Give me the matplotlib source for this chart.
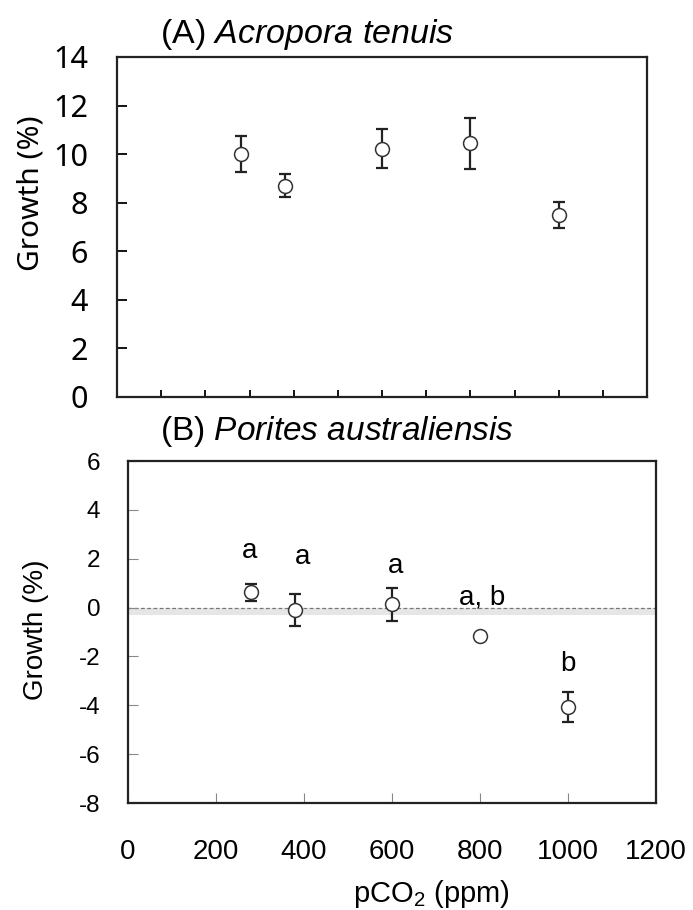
import numpy as np
import matplotlib
matplotlib.use("Agg")
from matplotlib import pyplot as plt

# pCO2 levels (ppm)
pco2 = [280, 380, 600, 800, 1000]

# (A) Acropora tenuis
growth_a = [10.0, 8.7, 10.23, 10.45, 7.48]
err_a = [0.74, 0.48, 0.82, 1.05, 0.53]

# (B) Porites australiensis
growth_b = [0.62, -0.09, 0.14, -1.15, -4.07]
err_b = [0.35, 0.66, 0.67, 0.0, 0.63]

# significance letters for panel B
letters = ["a", "a", "a", "a, b", "b"]
letter_x = [276, 396, 609, 804, 1000]
letter_y = [2.32, 2.05, 1.71, 0.42, -2.31]

plt.rcParams['mathtext.fontset'] = 'custom'
plt.rcParams['mathtext.rm'] = 'Liberation Sans'
plt.rcParams['mathtext.it'] = 'Liberation Sans:italic'
plt.rcParams['font.family'] = ['Liberation Sans', 'DejaVu Sans']
plt.rcParams['axes.unicode_minus'] = False

W, H = 693, 910
fig = plt.figure(figsize=(W / 100, H / 100), dpi=100)

def box(l, t, r, b):
    return [l / W, 1 - b / H, (r - l) / W, (b - t) / H]

# ---- panel A ----
axa = fig.add_axes(box(117, 57, 647, 397))
axa.errorbar(pco2, growth_a, yerr=err_a, fmt='none', ecolor='#222222',
             elinewidth=1.6, capsize=4.5, capthick=1.6, zorder=2)
axa.plot(pco2, growth_a, 'o', ms=10, mfc='white', mec='#333333', mew=1.1, zorder=3)
axa.set_xlim(0, 1200)
axa.set_ylim(0, 14)
axa.set_xticks(np.arange(0, 1201, 100))
axa.set_yticks(np.arange(0, 15, 2))
axa.tick_params(axis='x', direction='in', length=5, width=1.3, labelbottom=False)
axa.tick_params(axis='y', direction='in', length=7, width=1.3, pad=21, labelsize=22)
for lab in axa.get_yticklabels():
    lab.set_fontfamily('Noto Sans')
for s in axa.spines.values():
    s.set_linewidth(1.6)
    s.set_color('#222222')
fig.text(31 / W, 1 - 193 / H, 'Growth (%)', rotation=90, ha='center', va='center',
         fontsize=21.5, family='Noto Sans')
fig.text(160 / W, 1 - 43 / H, r'(A) $\it{Acropora\ tenuis}$', fontsize=24.5,
         ha='left', va='baseline')

# ---- panel B ----
axb = fig.add_axes(box(128, 461, 656, 803))
axb.axhspan(-0.3, 0, color='#e6e6e6', lw=0, zorder=0)
axb.axhline(0, color='#777777', ls='--', lw=0.9, dashes=(3, 2), zorder=1)
axb.errorbar(pco2, growth_b, yerr=err_b, fmt='none', ecolor='#222222',
             elinewidth=1.6, capsize=4.5, capthick=1.6, zorder=2)
axb.plot(pco2, growth_b, 'o', ms=10, mfc='white', mec='#333333', mew=1.1, zorder=3)
for lx, ly, t in zip(letter_x, letter_y, letters):
    axb.text(lx, ly, t, ha='center', va='center', fontsize=20)
axb.set_xlim(0, 1200)
axb.set_ylim(-8, 6)
axb.set_xticks(np.arange(0, 1201, 200))
axb.set_yticks(np.arange(-8, 7, 2))
axb.tick_params(axis='x', direction='in', length=7, width=0.8, color='#888888',
                pad=26, labelsize=20)
axb.tick_params(axis='y', direction='in', length=7, width=0.8, color='#888888',
                pad=20, labelsize=17.5)
for s in axb.spines.values():
    s.set_linewidth(1.6)
    s.set_color('#222222')
fig.text(36 / W, 1 - 630 / H, 'Growth (%)', rotation=90, ha='center', va='center',
         fontsize=20)
fig.text(160 / W, 1 - 440 / H, r'(B) $\it{Porites\ australiensis}$', fontsize=24,
         ha='left', va='baseline')
fig.text(431 / W, 1 - 902 / H, r'pCO$_2$ (ppm)', fontsize=21, ha='center', va='baseline')

fig.savefig('out.png', dpi=100)
